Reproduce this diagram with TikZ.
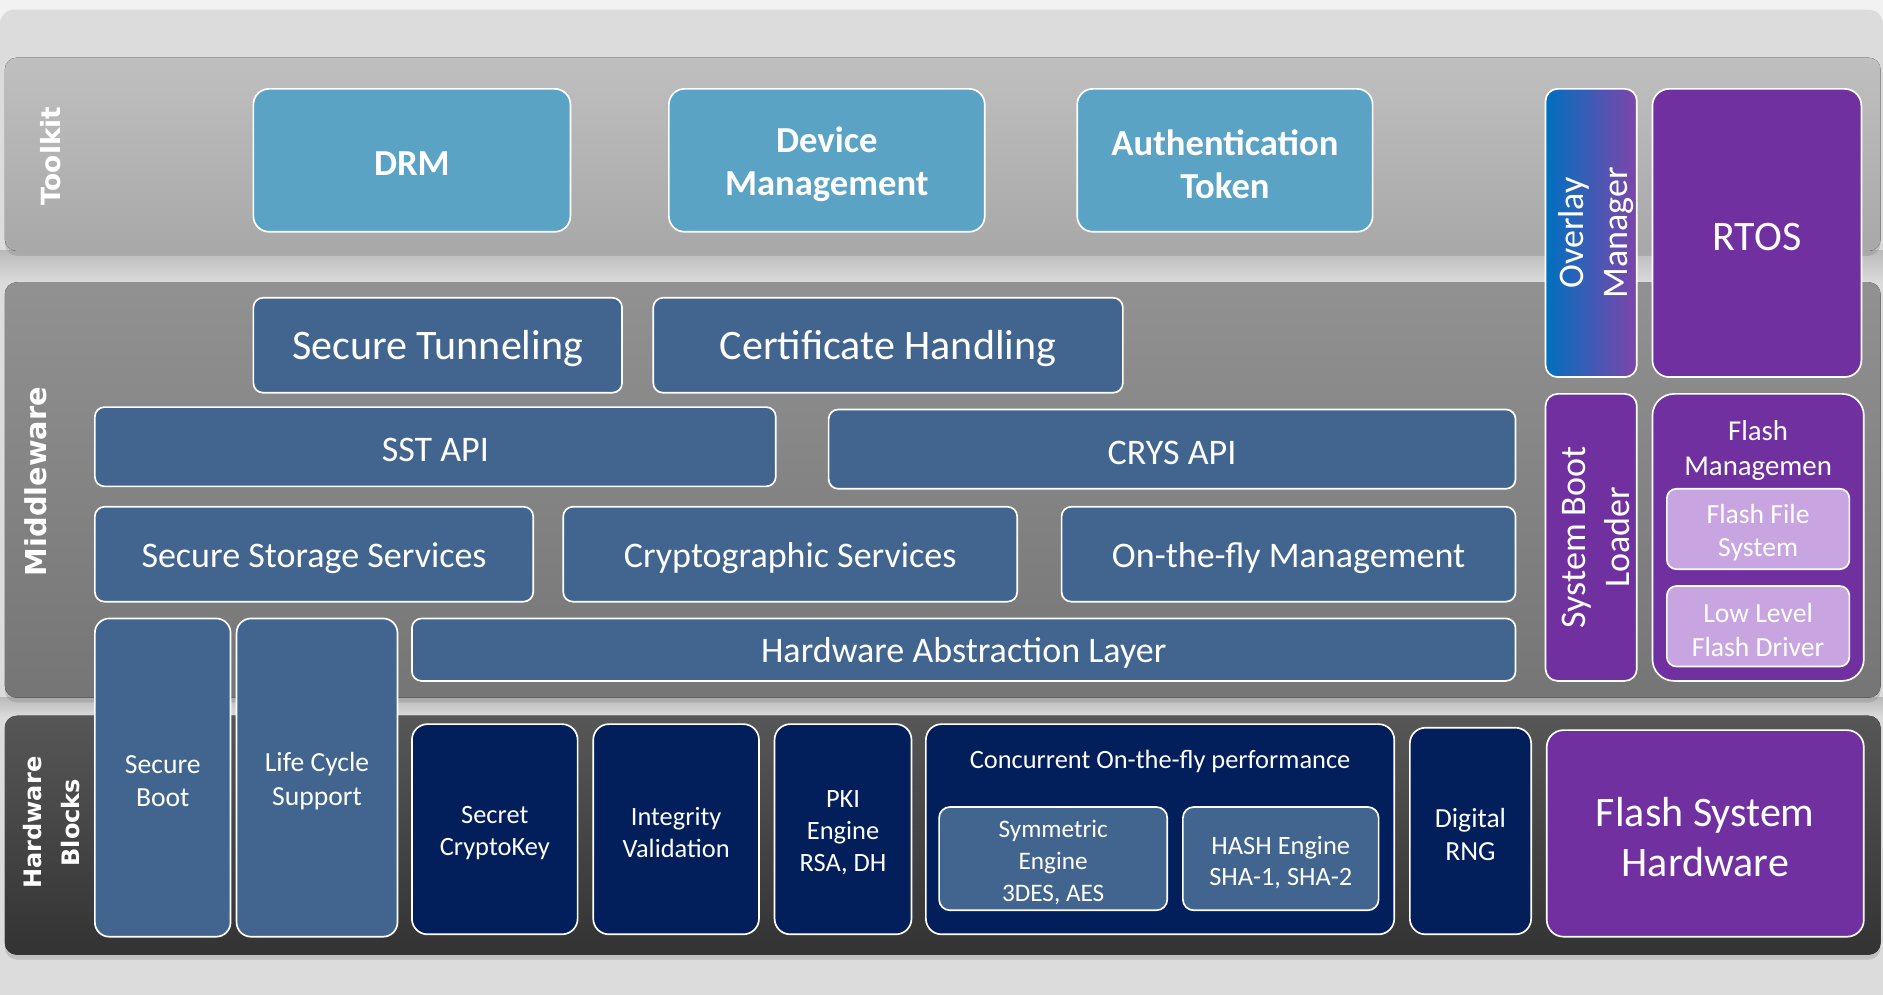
\documentclass[tikz,border=0pt]{standalone}
\usepackage{fontspec}
\setmainfont{Carlito}
\newfontfamily\layerfont{DejaVu Sans}
\usetikzlibrary{shadows}

\definecolor{tkblue}{HTML}{5BA3C5}
\definecolor{mwblue}{HTML}{42658F}
\definecolor{hwnavy}{HTML}{021F5C}
\definecolor{ospurple}{HTML}{7030A0}
\definecolor{oslilac}{HTML}{C8A5E1}
\definecolor{ovblue}{HTML}{0070C0}
\definecolor{bggray}{HTML}{DCDCDC}

\newcommand{\fsz}[2]{\fontsize{#1}{#2}\selectfont}
% empty box from corner (x1,y1) to corner (x2,y2)
\newcommand{\frameat}[6]{%
  \node[#1, minimum width={#5-#3}, minimum height={#6-#4}] (#2) at ({(#3+#5)/2},{(#4+#6)/2}) {};}
% box with its text
\newcommand{\blockat}[7]{%
  \frameat{#1}{#2}{#3}{#4}{#5}{#6}
  \node[#1, draw=none, fill=none, yshift=-3pt] (#2txt) at (#2.center) {#7};}

\tikzset{
  blk/.style={draw=white, line width=1.4pt, text=white, align=center, inner sep=0pt},
  tkbox/.style={blk, fill=tkblue, rounded corners=13pt, font=\bfseries\fsz{30.5}{36}},
  mwbox/.style={blk, fill=mwblue, rounded corners=8pt, font=\fsz{30}{36}},
  hwbox/.style={blk, fill=hwnavy, rounded corners=13pt, font=\fsz{22}{26.5}},
  osbox/.style={blk, fill=ospurple, rounded corners=14pt},
  lilacbox/.style={blk, fill=oslilac, rounded corners=8pt, font=\fsz{23}{28}},
  layer/.style={rounded corners=10pt, drop shadow={shadow xshift=0pt, shadow yshift=-4pt, opacity=.3}},
  layerlbl/.style={text=white, rotate=90, align=center, font=\layerfont\bfseries},
  gap/.style={top color=bggray!85!black, middle color=white, bottom color=bggray},
}

\begin{document}
\begin{tikzpicture}[x=1pt,y=-1pt]
\useasboundingbox (0,0) rectangle (1568,828);
% backdrop
\fill[white!95!black] (0,0) rectangle (1568,828);
\fill[bggray, rounded corners=12pt] (0,8) rectangle (1568,860);
\fill[gap] (0,209) rectangle (1568,236);
\fill[gap] (0,581) rectangle (1568,597);

% layers
\fill[layer, top color=black!25, bottom color=black!34] (4,48) rectangle (1566,209);
\fill[layer, top color=black!43, bottom color=black!54] (4,235) rectangle (1566,581);
\fill[layer, top color=black!66, bottom color=black!80] (4,596) rectangle (1566,795);
\node[layerlbl, font=\layerfont\bfseries\fsz{22}{26}] (toolkitlbl) at (42,130) {Toolkit};
\node[layerlbl, font=\layerfont\bfseries\fsz{24}{28}] (middlelbl) at (30,401) {Middleware};
\node[layerlbl, font=\layerfont\bfseries\fsz{20}{31}] (hwlbl) at (43,685) {Hardware\\Blocks};

% toolkit
\blockat{tkbox}{drm}{211}{74}{475}{193}{DRM}
\blockat{tkbox}{devmgmt}{557}{74}{820}{193}{Device\\Management}
\blockat{tkbox}{auth}{897}{74}{1143}{193}{Authentication\\Token}

% right column
\frameat{osbox, left color=ovblue, right color=ospurple!90!white, rounded corners=10pt}{overlay}{1287}{74}{1363}{314}
\node[xshift=4pt, layerlbl, font=\fsz{30}{37}] (overlaytxt) at (overlay.center) {Overlay\\Manager};
\blockat{osbox, font=\fsz{35}{42}}{rtos}{1376}{74}{1550}{314}{RTOS}
\frameat{osbox, rounded corners=10pt}{bootldr}{1287}{328}{1363}{567}
\node[xshift=4pt, layerlbl, font=\fsz{30}{37}] (bootldrtxt) at (bootldr.center) {System Boot\\Loader};
\frameat{osbox, rounded corners=18pt}{flashmgmt}{1376}{328}{1552}{567}
\node[text=white, align=center, font=\fsz{24}{29}] (flashmgmttxt) at (1464,375) {Flash\\Managemen};
\blockat{lilacbox}{ffs}{1388}{407}{1540}{474}{Flash File\\System}
\blockat{lilacbox}{lowlvl}{1388}{488}{1540}{555}{Low Level\\Flash Driver}
\blockat{osbox, font=\fsz{35}{42}}{flashhw}{1288}{608}{1552}{780}{Flash System\\Hardware}

% middleware
\blockat{mwbox, font=\fsz{35}{40}}{tunnel}{211}{248}{518}{327}{Secure Tunneling}
\blockat{mwbox, font=\fsz{35}{40}}{cert}{544}{248}{935}{327}{Certificate Handling}
\blockat{mwbox}{sstapi}{79}{339}{646}{405}{SST API}
\blockat{mwbox}{crysapi}{690}{341}{1262}{407}{CRYS API}
\blockat{mwbox}{sss}{79}{422}{444}{501}{Secure Storage Services}
\blockat{mwbox}{cryptsvc}{469}{422}{847}{501}{Cryptographic Services}
\blockat{mwbox}{otf}{884}{422}{1262}{501}{On-the-fly Management}
\blockat{mwbox}{hal}{343}{515}{1262}{567}{Hardware Abstraction Layer}
\blockat{mwbox, rounded corners=12pt, font=\fsz{23}{28}}{secboot}{79}{515}{192}{780}{Secure\\Boot}
\blockat{mwbox, rounded corners=12pt, font=\fsz{23}{28}}{lifecycle}{197}{515}{331}{780}{Life Cycle\\Support}

% hardware blocks
\blockat{hwbox}{secret}{343}{603}{481}{778}{Secret\\CryptoKey}
\blockat{hwbox}{integ}{494}{603}{632}{778}{Integrity\\Validation}
\blockat{hwbox}{pki}{645}{603}{759}{778}{PKI\\Engine\\RSA, DH}
\frameat{hwbox}{conc}{771}{603}{1161}{778}
\node[text=white, font=\fsz{22}{26}] (conctxt) at (966,634) {Concurrent On-the-fly performance};
\blockat{hwbox, fill=mwblue, rounded corners=9pt, font=\fsz{21}{26.5}}{symeng}{782}{672}{972}{758}{Symmetric\\Engine\\3DES, AES}
\blockat{hwbox, fill=mwblue, rounded corners=9pt, font=\fsz{22}{26}}{hasheng}{985}{672}{1148}{758}{HASH Engine\\SHA-1, SHA-2}
\blockat{hwbox, font=\fsz{23}{28}}{rng}{1174}{606}{1275}{778}{Digital\\RNG}
\end{tikzpicture}
\end{document}
